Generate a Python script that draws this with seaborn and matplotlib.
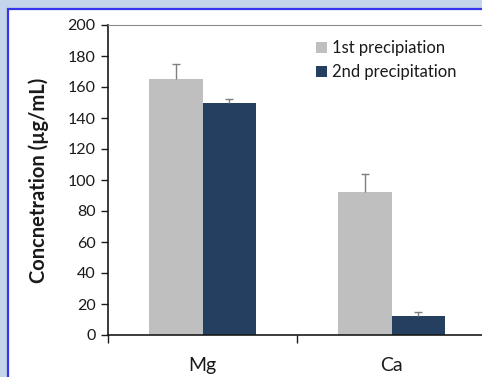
import matplotlib
matplotlib.use("Agg")
import matplotlib.pyplot as plt
import seaborn as sns
import pandas as pd
import numpy as np
from matplotlib.patches import Rectangle

elements = ["Mg", "Ca"]
series = ["1st precipiation", "2nd precipitation"]
first_vals = [165, 92]
second_vals = [150, 12]
first_err = [10, 12]
second_err = [2, 3]
yticks = [0, 20, 40, 60, 80, 100, 120, 140, 160, 180, 200]
colors = ["#bfbfbf", "#243f60"]

df = pd.DataFrame({
    "element": elements * 2,
    "series": [series[0]] * 2 + [series[1]] * 2,
    "value": first_vals + second_vals,
    "err": first_err + second_err,
})

sns.set_theme(style="white")
plt.rcParams["font.family"] = ["Lato", "DejaVu Sans"]

fig = plt.figure(figsize=(4.82, 3.77), dpi=100, facecolor="#c4d4ea")
fig.patches.append(Rectangle((7.5 / 482, -0.05), 1.1, 1.05 - 8.5 / 377, transform=fig.transFigure,
                             facecolor="white", edgecolor="#3535ee", linewidth=1.6, zorder=-10))
ax = fig.add_axes([108 / 482, 42 / 377, 378 / 482, 310 / 377])
ax.set_facecolor("white")

sns.barplot(data=df, x="element", y="value", hue="series", order=elements, hue_order=series,
            palette=colors, width=0.566, errorbar=None, ax=ax, saturation=1, zorder=2,
            linewidth=0)

# error bars (plus only)
for cont, errs, vals in zip(ax.containers, [first_err, second_err], [first_vals, second_vals]):
    for bar, e, v in zip(cont.patches, errs, vals):
        xc = bar.get_x() + bar.get_width() / 2
        eb = ax.errorbar([xc], [v], yerr=[[0], [e]], fmt="none", ecolor="#7f7f7f",
                         elinewidth=1.0, capsize=3, capthick=1.0, zorder=3)
        caps = eb[1]
        if len(caps) == 2:
            caps[0].set_visible(False)

ax.set_xlim(-0.5, 1.5)
ax.set_ylim(0, 200)
ax.set_yticks(yticks)
ax.set_yticklabels([str(t) for t in yticks], fontsize=11.5, color="#1a1a1a")
ax.set_xticks([0, 1])
ax.set_xticklabels(elements, fontsize=14, color="#1a1a1a")
ax.tick_params(axis="x", length=0, pad=16)
ax.tick_params(axis="y", direction="out", length=5, width=1, color="#1a1a1a", left=True, pad=4)
# category separator ticks
ax.set_xticks([-0.5, 0.5, 1.5], minor=True)
ax.tick_params(axis="x", which="minor", direction="out", length=6, width=1, color="#1a1a1a", bottom=True)

ax.set_xlabel("")
ax.set_ylabel("Concnetration (µg/mL)", fontsize=14.5, fontweight="bold", color="#1a1a1a", labelpad=13)

for s in ["left", "bottom"]:
    ax.spines[s].set_color("#1a1a1a")
    ax.spines[s].set_linewidth(1.2)
ax.spines["top"].set_color("#8c8c8c")
ax.spines["top"].set_linewidth(0.8)
ax.spines["right"].set_visible(False)

leg = ax.legend(loc="upper left", bbox_to_anchor=(0.51, 1.0), frameon=False, fontsize=12,
                handlelength=0.65, handleheight=0.65, handletextpad=0.35, labelspacing=0.5)
for t in leg.get_texts():
    t.set_color("#1a1a1a")

fig.savefig("out.png", dpi=100, facecolor=fig.get_facecolor())
